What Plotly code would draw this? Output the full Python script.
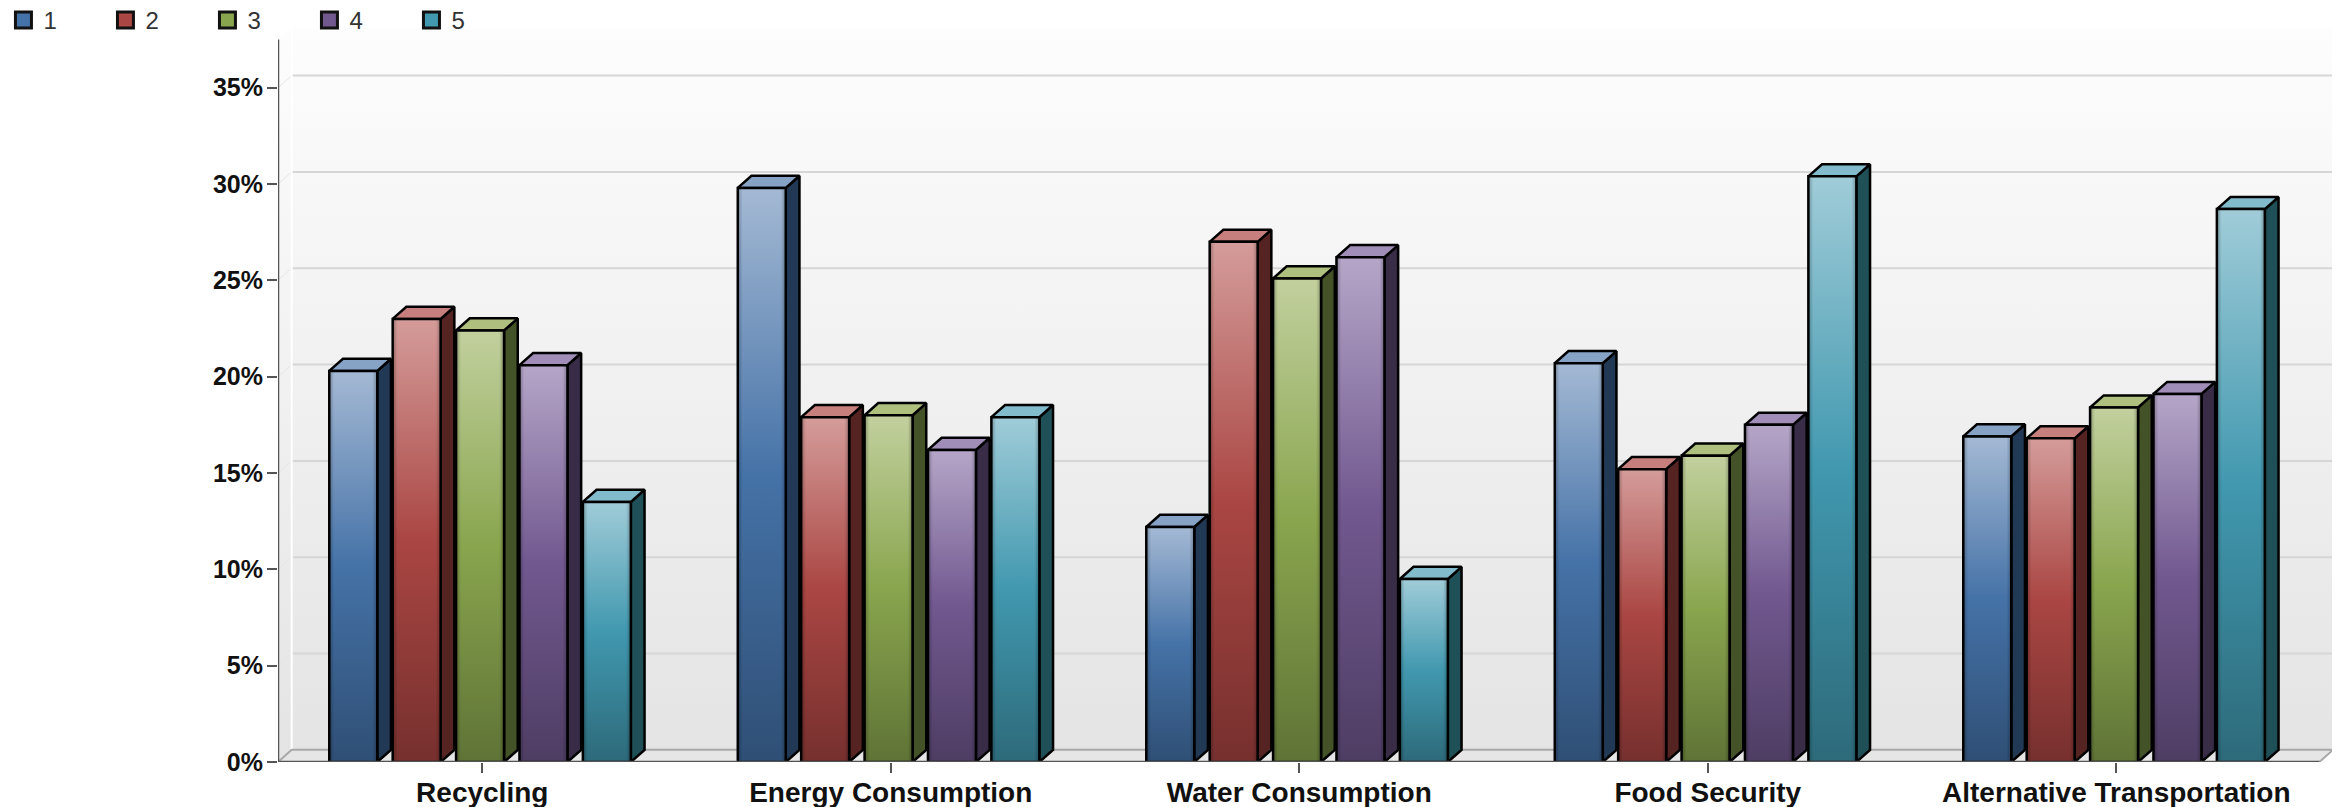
import plotly.graph_objects as go

categories = ["Recycling", "Energy Consumption", "Water Consumption", "Food Security", "Alternative Transportation"]
series_names = ["1", "2", "3", "4", "5"]
s1 = [20.3, 29.8, 12.2, 20.7, 16.9]
s2 = [23.0, 17.9, 27.0, 15.2, 16.8]
s3 = [22.4, 18.0, 25.1, 15.9, 18.4]
s4 = [20.6, 16.2, 26.2, 17.5, 19.1]
s5 = [13.5, 17.9, 9.5, 30.4, 28.7]
series = [s1, s2, s3, s4, s5]
y_ticks = [0, 5, 10, 15, 20, 25, 30, 35]

face_top = ["#A4B9D4", "#D49C9A", "#C2D09E", "#B5A6C8", "#A0CCD8"]
face_mid = ["#4572A7", "#AA4643", "#89A54E", "#71588F", "#4198AF"]
face_low = ["#2F4F75", "#76302E", "#5F7336", "#4E3D63", "#2D6A7A"]
cap = ["#86A3C6", "#C67F7C", "#AEBF7E", "#A08EB8", "#82BBCB"]
side = ["#223955", "#552321", "#445227", "#382C47", "#205057"]

BAR_W = 0.1175
BAR_STEP = 0.1552
BAR_START = -0.3745
DX = 0.0335   # perspective depth along x
DY = 0.63     # perspective depth along y, in %
X0, X1 = -0.5, 4.5306
Y1 = 38.1
Y_AX_TOP = 37.5
X_AX_END = X1 - DX
LINE = "#000000"

fig = go.Figure()

def poly(xs, ys, xa="x", ya="y", **kw):
    fig.add_trace(go.Scatter(x=xs, y=ys, mode="lines", fill="toself", xaxis=xa, yaxis=ya,
                             hoverinfo="skip", showlegend=False, **kw))

grey_grad = dict(type="vertical", colorscale=[[0, "#E4E4E4"], [1, "#FDFDFD"]])
nol = dict(width=0)
# back wall, left wall, floor
poly([X0 + DX, X1, X1, X0 + DX, X0 + DX], [DY, DY, Y1, Y1, DY], line=nol, fillgradient=grey_grad)
poly([X0, X0 + DX, X0 + DX, X0, X0], [0, DY, Y1, Y_AX_TOP, 0], line=nol, fillgradient=grey_grad)
poly([X0, X_AX_END, X1, X0 + DX, X0], [0, 0, DY, DY, 0], line=nol, fillcolor="#E6E6E6")

# gridlines on the wall with the slanted part on the left wall
gx, gy = [], []
for t in y_ticks[1:]:
    gx += [X0 + DX, X1, None]
    gy += [t + DY, t + DY, None]
fig.add_trace(go.Scatter(x=gx, y=gy, mode="lines", line=dict(color="#D6D6D6", width=2),
                         hoverinfo="skip", showlegend=False))
sx_, sy_ = [], []
for t in y_ticks[1:]:
    sx_ += [X0, X0 + DX, None]
    sy_ += [t, t + DY, None]
fig.add_trace(go.Scatter(x=sx_, y=sy_, mode="lines", line=dict(color="#E6E6E6", width=1),
                         hoverinfo="skip", showlegend=False))
# white edge of the back wall
fig.add_trace(go.Scatter(x=[X0 + DX, X0 + DX], y=[DY, Y1], mode="lines", line=dict(color="#FFFFFF", width=2),
                         hoverinfo="skip", showlegend=False))
# floor back line
fig.add_trace(go.Scatter(x=[X0, X0 + DX, X1, X_AX_END], y=[0, DY, DY, 0], mode="lines",
                         line=dict(color="#A8A8A8", width=2), hoverinfo="skip", showlegend=False))

# bars on an overlaid pair of axes so they sit above the gradient wall
for i, (vals, name) in enumerate(zip(series, series_names)):
    off = BAR_START + i * BAR_STEP
    fig.add_trace(go.Bar(x=list(range(5)), y=vals, name=name, width=BAR_W, offset=off,
                         xaxis="x2", yaxis="y2", marker=dict(color=face_mid[i], line=dict(color=LINE, width=0)),
                         legendgroup=name, showlegend=False,
                         hovertemplate="%{y}%<extra>" + name + "</extra>"))
    # side and top faces
    sx, sy, tx, ty = [], [], [], []
    for c, v in enumerate(vals):
        l = c + off
        r = l + BAR_W
        sx += [r, r + DX, r + DX, r, r, None]
        sy += [0, DY, v + DY, v, 0, None]
        tx += [l, l + DX, r + DX, r, l, None]
        ty += [v, v + DY, v + DY, v, v, None]
    poly(sx, sy, "x2", "y2", fillcolor=side[i], line=dict(color=LINE, width=2.5))
    poly(tx, ty, "x2", "y2", fillcolor=cap[i], line=dict(color=LINE, width=2.5))
    # front faces with gradient
    for c, v in enumerate(vals):
        l = c + off
        r = l + BAR_W
        fx = [l, r, r, l, l]
        fy = [0, 0, v, v, 0]
        poly(fx, fy, "x2", "y2", line=nol,
             fillgradient=dict(type="vertical", colorscale=[[0, face_low[i]], [0.5, face_mid[i]], [1, face_top[i]]]))
        poly(fx, fy, "x2", "y2", line=dict(color=LINE, width=2.5),
             fillgradient=dict(type="horizontal", colorscale=[[0, "rgba(0,0,0,0.28)"], [0.1, "rgba(0,0,0,0)"],
                                                              [0.9, "rgba(0,0,0,0)"], [1, "rgba(0,0,0,0.28)"]]))
    # legend key
    fig.add_trace(go.Scatter(x=[-100], y=[-100], mode="markers", name=name, legendgroup=name,
                             xaxis="x2", yaxis="y2", hoverinfo="skip",
                             marker=dict(symbol="square", size=16, color=face_mid[i], line=dict(color="#111111", width=3))))

# axis lines
fig.add_trace(go.Scatter(x=[X0, X0], y=[0, Y_AX_TOP], mode="lines", line=dict(color="#555555", width=2.5),
                         xaxis="x2", yaxis="y2", hoverinfo="skip", showlegend=False, cliponaxis=False))
fig.add_trace(go.Scatter(x=[X0, X_AX_END], y=[0, 0], mode="lines", line=dict(color="#555555", width=2.5),
                         xaxis="x2", yaxis="y2", hoverinfo="skip", showlegend=False, cliponaxis=False))

y_font = dict(family="Liberation Sans, Arial, sans-serif", size=25, color="#111111", weight=700)
x_font = dict(family="Liberation Sans, Arial, sans-serif", size=28, color="#111111", weight=700)
fig.update_layout(
    width=2332, height=799, autosize=False,
    margin=dict(l=270, r=7, t=20, b=45, pad=0, autoexpand=False),
    paper_bgcolor="#FFFFFF", plot_bgcolor="rgba(0,0,0,0)",
    barmode="overlay",
    xaxis=dict(range=[X0, X1], tickmode="array", tickvals=list(range(5)), ticktext=categories,
               tickfont=x_font, ticks="outside", ticklen=10, tickwidth=2, tickcolor="#555555",
               ticklabelstandoff=-5,
               showgrid=False, zeroline=False, showline=False, fixedrange=True),
    yaxis=dict(range=[0, Y1], tickmode="array", tickvals=y_ticks, ticktext=[f"{t}%" for t in y_ticks],
               tickfont=y_font, ticks="outside", ticklen=10, tickwidth=2, tickcolor="#555555",
               ticklabelstandoff=-1,
               showgrid=False, zeroline=False, showline=False, fixedrange=True),
    xaxis2=dict(range=[X0, X1], overlaying="x", visible=False, fixedrange=True),
    yaxis2=dict(range=[0, Y1], overlaying="y", visible=False, fixedrange=True),
    legend=dict(orientation="h", x=-0.1336, xanchor="left", y=1.041, yanchor="top",
                font=dict(family="Liberation Sans, Arial, sans-serif", size=24, color="#333333"),
                entrywidth=57, entrywidthmode="pixels", traceorder="normal",
                bgcolor="rgba(0,0,0,0)", borderwidth=0, itemclick=False, itemdoubleclick=False),
)
fig.write_html("out.html")
